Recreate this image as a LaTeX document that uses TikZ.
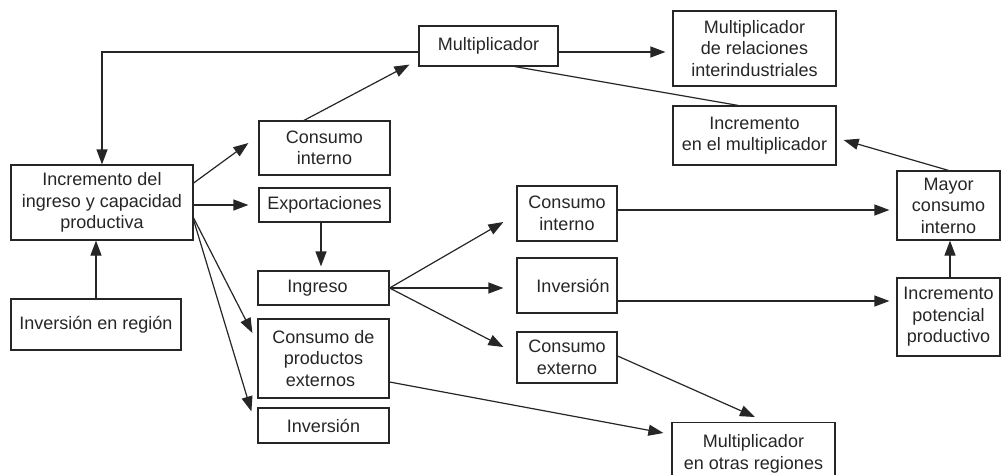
\documentclass[tikz,border=0pt]{standalone}
\usepackage{fontspec}
\setmainfont{Liberation Sans}
\usetikzlibrary{arrows.meta,calc}
\definecolor{ink}{HTML}{262626}
\tikzset{
  box/.style={draw=ink, line width=1.2pt, align=center, inner sep=1pt,
    font=\fontsize{18}{21.5}\selectfont, text=ink},
  arr/.style={draw=ink, line width=1.2pt, -{Triangle[length=15pt,width=11pt]}},
  ln/.style={draw=ink, line width=1.2pt},
}
\begin{document}
\begin{tikzpicture}[x=1pt,y=-1pt]
\clip (0,0) rectangle (1001,474);
\fill[white] (0,0) rectangle (1001,474);
% boxes
\node[box, minimum width=139pt, minimum height=40pt] (mult) at (488.5,46) {Multiplicador};
\node[box, minimum width=163pt, minimum height=75pt] (mrel) at (754.5,48.5) {Multiplicador\\de relaciones\\interindustriales};
\node[box, minimum width=163pt, minimum height=59pt] (incm) at (754.5,135.5) {Incremento\\en el multiplicador};
\node[box, minimum width=131pt, minimum height=54pt] (ci1) at (324.5,148) {Consumo\\interno};
\node[box, minimum width=182pt, minimum height=75pt] (inc) at (102,202.5) {Incremento del\\ingreso y capacidad\\productiva};
\node[box, minimum width=131pt, minimum height=34pt] (exp) at (324.5,205) {Exportaciones};
\node[box, minimum width=131pt, minimum height=34pt] (ing) at (323.5,288) {Ingreso\hspace*{12pt}};
\node[box, minimum width=170pt, minimum height=51pt] (invr) at (96,324.5) {Inversión en región};
\node[box, minimum width=131pt, minimum height=79pt] (cpe) at (323.5,358.5) {Consumo de\\productos\\externos\hspace*{6pt}};
\node[box, minimum width=131pt, minimum height=35pt] (inv1) at (323.5,425.5) {Inversión};
\node[box, minimum width=100pt, minimum height=55pt] (ci2) at (567,213.5) {Consumo\\interno};
\node[box, minimum width=100pt, minimum height=55pt] (inv2) at (567,285.5) {\hspace*{12pt}Inversión};
\node[box, minimum width=100pt, minimum height=51pt] (ce) at (567,357.5) {Consumo\\externo};
\node[box, minimum width=163pt, minimum height=62pt, anchor=north] (mor) at (753.5,422) {Multiplicador\\en otras regiones};
\node[box, minimum width=103pt, minimum height=69pt] (mci) at (948.5,205.5) {Mayor\\consumo\\interno};
\node[box, minimum width=103pt, minimum height=78pt] (ipp) at (948.5,317) {Incremento\\potencial\\productivo};
% connectors
\draw[arr] ([yshift=-6pt]mult.west) -| (inc.north);
\draw[arr] ([xshift=-20.5pt]ci1.north) -- ([xshift=-9pt,yshift=2pt]mult.south west);
\draw[arr, shorten >=7pt] ([yshift=-6pt]mult.east) -- ([yshift=-6pt]mult.east -| mrel.west);
\draw[ln] ([xshift=26.5pt]mult.south) -- ([xshift=-16.5pt]incm.north);
\draw[arr] (mci.north) -- ([xshift=7pt,yshift=-4.5pt]incm.east);
\draw[arr] ([yshift=19.5pt]inc.east) -- ([xshift=-10pt,yshift=5pt]ci1.west);
\draw[arr, shorten >=10pt] (inc.east |- exp.west) -- (exp.west);
\draw[arr] ([yshift=-15.5pt]inc.east) -- ([xshift=-5pt,yshift=25.5pt]cpe.west);
\draw[arr] ([yshift=-17.5pt]inc.east) -- ([xshift=-6pt,yshift=-4pt]inv1.north west);
\draw[arr, shorten >=4pt] ([xshift=-3.5pt]exp.south) -- ([xshift=-3.5pt]exp.south |- ing.north);
\draw[arr] (invr.north) -- (invr.north |- inc.south);
\draw[arr] (ing.east) -- ([xshift=-13pt,yshift=-8.5pt]ci2.west);
\draw[arr, shorten >=13pt] (ing.east) -- (ing.east -| inv2.west);
\draw[arr] (ing.east) -- ([xshift=-13pt,yshift=10.5pt]ce.west);
\draw[arr] ([yshift=-23.5pt]cpe.east) -- ([xshift=-8pt,yshift=-11pt]mor.north west);
\draw[arr] ([yshift=1.5pt]ce.east) -- ([xshift=1.5pt,yshift=5pt]mor.north);
\draw[arr, shorten >=7pt] ([yshift=3.5pt]ci2.east) -- ([yshift=3.5pt]ci2.east -| mci.west);
\draw[arr, shorten >=7pt] ([yshift=-15.5pt]inv2.east) -- ([yshift=-15.5pt]inv2.east -| ipp.west);
\draw[arr] ([xshift=1.5pt]ipp.north) -- ([xshift=1.5pt]ipp.north |- mci.south);
\end{tikzpicture}
\end{document}
